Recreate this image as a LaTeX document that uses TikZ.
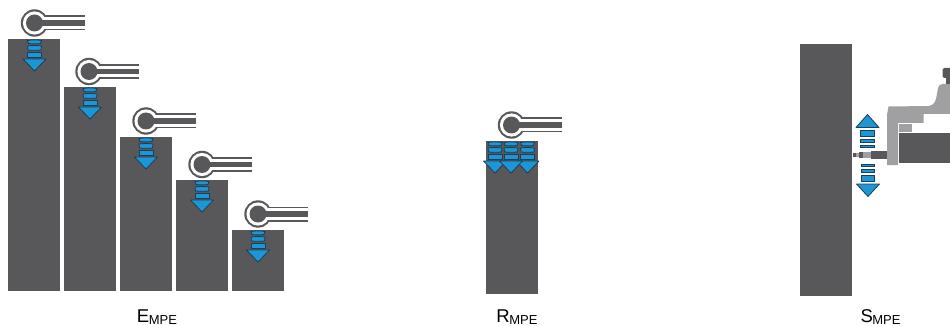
\documentclass[tikz,border=0pt]{standalone}
\usepackage{fontspec}
\setmainfont{Liberation Sans}
\definecolor{bardark}{HTML}{58585A}
\definecolor{barlight}{HTML}{A0A0A2}
\definecolor{arrowblue}{HTML}{1F96D4}
\definecolor{edgeblue}{HTML}{1A3F5A}
\tikzset{
  barbox/.style={fill=bardark,draw=none},
  segment/.style={fill=arrowblue,draw=edgeblue,line width=0.8pt},
  tip/.style={fill=arrowblue,draw=edgeblue,line width=0.8pt,line join=round},
  lightpart/.style={fill=barlight,draw=none},
}
\newcommand{\captiontext}[2]{{\fontsize{18.5}{20}\selectfont #1\kern-0.5pt\raisebox{-2pt}{\fontsize{13}{14}\selectfont #2}}}
\newcommand{\pinicon}[2]{%
  \begin{scope}[shift={(#1,#2)}]
    \fill[bardark] (0,0) circle (13.7);
    \fill[bardark] (0,-7.5) rectangle (50,7.5);
    \fill[white] (0,0) circle (11.6);
    \fill[white] (0,-5.7) rectangle (51,5.7);
    \fill[bardark] (0,0) circle (8.5);
    \fill[bardark] (0,-2.7) rectangle (50,2.7);
  \end{scope}}
\newcommand{\downarrowicon}[2]{%
  \begin{scope}[shift={(#1,#2)}]
    \draw[segment] (-7,1.5) .. controls (-3,0.8) and (3,0.8) .. (7,1.5) -- (6,4.5) .. controls (3,5) and (-3,5) .. (-6,4.5) -- cycle;
    \draw[segment] (-7,7) .. controls (-3,6.4) and (3,6.4) .. (7,7) -- (6.5,11) .. controls (3,11.4) and (-3,11.4) .. (-6.5,11) -- cycle;
    \draw[segment] (-7,13.5) rectangle (7,18.5);
    \draw[tip] (-11.5,20) -- (11.5,20) -- (0,32) -- cycle;
  \end{scope}}
\begin{document}
\begin{tikzpicture}[x=1pt,y=-1pt]
\useasboundingbox (0,0) rectangle (950,326);
% E bars
\fill[barbox] (8,39) rectangle (60,291);
\fill[barbox] (64,87) rectangle (116,291);
\fill[barbox] (120,137) rectangle (172,291);
\fill[barbox] (176,180) rectangle (228,291);
\fill[barbox] (232,230) rectangle (284,291);
\pinicon{34.5}{23}\pinicon{89}{71.5}\pinicon{146}{121}\pinicon{202}{164.5}\pinicon{258}{214}
\downarrowicon{34.5}{39}\downarrowicon{90}{87}\downarrowicon{146}{137}\downarrowicon{202}{180}\downarrowicon{258}{230}
% R
\fill[barbox] (486,141) rectangle (538,294);
\pinicon{511.5}{125}
\downarrowicon{495}{141}\downarrowicon{527.5}{141}\downarrowicon{511}{141}
% S
\fill[barbox] (800,44) rectangle (852,296);
% machine
\fill[lightpart] (887,115) -- (888.5,106.5) -- (929,106) .. controls (935,105) and (936,100) .. (937,94) -- (938,88) .. controls (938.5,85) and (940,84) .. (943,84) -- (950,84) -- (950,114) -- (923.5,114) -- (923.5,123) -- (898,123) -- (898,165) -- (887,165) -- cycle;
\fill[lightpart] (899,124.5) rectangle (912,132);
\fill[bardark] (898.5,133) rectangle (950,163);
\fill[bardark,rounded corners=1.5pt] (942.5,68) rectangle (953,78);
\fill[bardark] (945.5,78) rectangle (950,84);
\fill[bardark] (871,150.5) rectangle (887,159);
\fill[barlight] (863,152) rectangle (871,157.5);
\fill[bardark] (859,152) rectangle (863,158);
\fill[barlight] (856,153) rectangle (859,157);
\fill[bardark] (853,153) rectangle (856,157);
% S arrows
\draw[tip] (856,127.5) -- (867.5,114.5) -- (879,127.5) -- cycle;
\draw[segment] (860.5,130.5) rectangle (874.5,136);
\draw[segment] (860.5,139) rectangle (874.5,142.5);
\draw[segment] (860.5,145.5) rectangle (874.5,147.5);
\draw[segment] (861.5,164.5) rectangle (874.5,166);
\draw[segment] (861.5,169) rectangle (874.5,172.5);
\draw[segment] (861.5,175.5) rectangle (874.5,181);
\draw[tip] (856.5,184) -- (879.5,184) -- (868,196.5) -- cycle;
% captions
\node[anchor=base,inner sep=0pt] (le) at (157,322.5) {\captiontext{E}{MPE}};
\node[anchor=base,inner sep=0pt] (lr) at (517,322.5) {\captiontext{R}{MPE}};
\node[anchor=base,inner sep=0pt] (ls) at (880.5,322.5) {\captiontext{S}{MPE}};
\end{tikzpicture}
\end{document}
